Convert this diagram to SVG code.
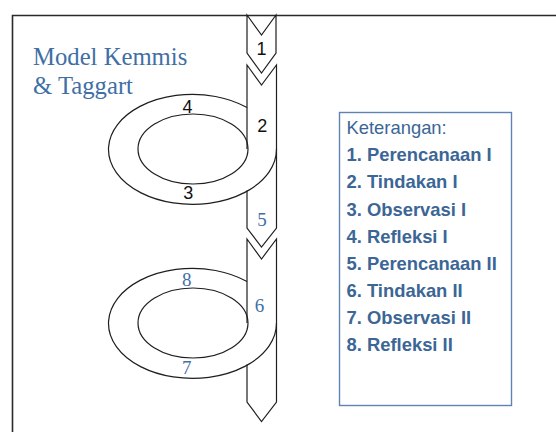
<svg xmlns="http://www.w3.org/2000/svg" width="556" height="432" viewBox="0 0 556 432">
<style>
.ln{fill:none;stroke:#1e1e1e;stroke-width:1.2;stroke-linejoin:miter}
.blk{font-family:"Liberation Sans",Arial,sans-serif;font-size:18px;fill:#111;text-anchor:middle}
.blu{font-family:"Liberation Serif","Times New Roman",serif;font-size:19px;fill:#3F6FA5;text-anchor:middle}
.ttl{font-family:"Liberation Serif","Times New Roman",serif;font-size:24.7px;fill:#3F6FA5}
.leg{font-family:"Liberation Sans",Arial,sans-serif;font-size:18.4px;fill:#3B6696}
.legb{font-weight:bold}
</style>
<rect x="0" y="0" width="556" height="432" fill="#fff"/>
<g id="frame">
<path d="M12.5,432 L12.5,15.5 L556,15.5" fill="none" stroke="#2a2a2a" stroke-width="1.6"/>
</g>
<g id="title">
<text class="ttl" x="33" y="65">Model Kemmis</text>
<text class="ttl" x="33" y="94">&amp; Taggart</text>
</g>
<g id="connectors">
<g id="arrow1">
<path class="ln" d="M247,15 L261.5,35 L276,15 L276,53 L261.5,73 L247,53 Z"/>
<text class="blk" x="261.5" y="55">1</text>
</g>
<g id="cycle1">
<path class="ln" d="M247,149 L247,65 L261.5,85 L276.5,65 L276.5,228 L261.5,247 L247,228 L247,190.5"/>
<path class="ln" d="M247,107.5 A84,55 0 1 0 276.5,149"/>
<ellipse class="ln" cx="193" cy="149" rx="55" ry="35"/>
<text class="blk" x="187.5" y="113.3">4</text>
<text class="blk" x="262.3" y="131.7">2</text>
<text class="blk" x="188.3" y="199">3</text>
<text class="blu" x="262" y="225.7">5</text>
</g>
<g id="cycle2">
<path class="ln" d="M247,323 L247,239 L261.5,259 L276.5,239 L276.5,402 L261.5,421.5 L247,402 L247,364.5"/>
<path class="ln" d="M247,281.5 A84,55 0 1 0 276.5,323"/>
<ellipse class="ln" cx="193" cy="323" rx="55" ry="35"/>
<text class="blu" x="186.7" y="286">8</text>
<text class="blu" x="259.5" y="312">6</text>
<text class="blu" x="186.7" y="374">7</text>
</g>
</g>
<g id="legend">
<rect x="339.5" y="112.5" width="172" height="293" fill="#fff" stroke="#5F84B4" stroke-width="1.4"/>
<text class="leg" x="346.5" y="134.3">Keterangan:</text>
<text class="leg legb" x="346.5" y="161">1. Perencanaan I</text>
<text class="leg legb" x="346.5" y="188.3">2. Tindakan I</text>
<text class="leg legb" x="346.5" y="216">3. Observasi I</text>
<text class="leg legb" x="346.5" y="242.7">4. Refleksi I</text>
<text class="leg legb" x="346.5" y="270">5. Perencanaan II</text>
<text class="leg legb" x="346.5" y="296.7">6. Tindakan II</text>
<text class="leg legb" x="346.5" y="324">7. Observasi II</text>
<text class="leg legb" x="346.5" y="350.7">8. Refleksi II</text>
</g>
</svg>
